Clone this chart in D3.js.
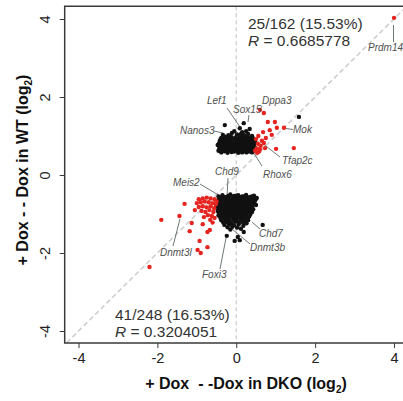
<!DOCTYPE html>
<html><head><meta charset="utf-8">
<script src="https://cdn.jsdelivr.net/npm/d3@7"></script>
<style>body{margin:0;background:#fff}svg{display:block;font-family:"Liberation Sans",Arial,sans-serif}</style>
</head><body><svg id="c" width="403" height="401"></svg>
<script>
const xTicks=[-4,-2,0,2,4];
const yTicks=[-4,-2,0,2,4];
const upperBlack=[[-0.29,1.28],[0.19,1.33],[0.09,1.20],[0.34,1.18],[-0.11,1.08],[-0.34,1.03],[-0.42,0.87],[-0.47,0.77],[-0.38,0.95],[0.25,1.12],
[-0.05,1.12],[0.15,1.10],[0.30,1.05],[0.02,1.04],[-0.20,1.02],[0.40,1.00],[-0.28,0.98],[0.10,0.99],[-0.12,0.97],[0.22,0.98],
[-0.33,0.92],[-0.18,0.93],[0.05,0.94],[0.35,0.94],[0.16,0.92],[-0.06,0.91],[0.27,0.90],[-0.25,0.89],[0.44,0.89],[0.08,0.88],
[-0.38,0.85],[-0.14,0.86],[0.20,0.86],[0.00,0.85],[0.32,0.84],[-0.30,0.83],[0.12,0.83],[-0.08,0.82],[0.40,0.82],[-0.22,0.81],
[0.25,0.81],[0.05,0.80],[-0.35,0.79],[-0.15,0.78],[0.18,0.78],[0.35,0.77],[-0.02,0.77],[-0.27,0.76],[0.10,0.75],[0.28,0.74],
[-0.40,0.74],[-0.10,0.74],[0.42,0.73],[-0.20,0.72],[0.02,0.72],[0.20,0.71],[-0.32,0.70],[0.33,0.70],[-0.05,0.70],[0.12,0.69],
[-0.25,0.68],[0.25,0.67],[-0.15,0.67],[0.05,0.66],[0.38,0.66],[-0.36,0.65],[-0.08,0.64],[0.16,0.64],[0.30,0.63],[-0.20,0.62],
[0.00,0.62],[0.22,0.61],[-0.30,0.61],[0.10,0.60],[-0.12,0.59],[0.35,0.60],[-0.38,0.58],[0.05,0.57],[0.26,0.58],[-0.22,0.57],
[-0.44,0.80],[-0.43,0.69],[-0.45,0.62],[-0.33,0.74],[-0.26,0.85],[-0.18,0.88],[-0.10,0.93],[-0.02,0.96],[0.06,0.90],[0.14,0.96],
[0.22,0.93],[0.30,0.97],[0.38,0.86],[0.45,0.78],[0.47,0.70],[0.44,0.63],[0.40,0.58],[0.15,0.58],[-0.05,0.60],[-0.28,0.64],
[-0.18,0.65],[-0.10,0.68],[0.00,0.68],[0.08,0.71],[0.18,0.67],[0.28,0.69],[0.36,0.72],[-0.35,0.87],[-0.22,0.77],[-0.12,0.79],
[-0.04,0.81],[0.04,0.84],[0.14,0.80],[0.24,0.76],[0.32,0.79],[0.40,0.76],[-0.30,0.72],[-0.16,0.71],[-0.06,0.75],[0.07,0.77],
[0.16,0.74],[0.26,0.86],[0.36,0.90],[-0.40,0.91],[-0.24,0.94],[0.00,0.89],[0.10,0.86],[0.20,1.02],[-0.15,1.00],[0.12,1.05],
[-0.30,0.67],[0.48,0.84],[0.42,0.95],[-0.08,0.86],[0.02,0.76],[0.30,0.61],[1.59,1.49]];
const upperRed=[[0.60,1.67],[0.70,1.59],[0.80,1.36],[0.98,1.36],[0.85,1.15],[1.03,1.21],[0.90,1.03],[1.21,1.21],[1.01,0.67],[1.46,0.69],[0.73,0.69],[4.00,4.03],
[0.50,0.92],[0.55,0.80],[0.52,0.68],[0.58,0.60],[0.62,0.75],[0.48,0.62],[0.65,0.88],[0.56,1.00],[0.70,0.82],[0.60,0.66],[0.53,0.57],[0.75,0.95],[0.68,1.10]];
const lowerBlack=[[0.52,-0.59],[0.50,-0.77],[0.67,-1.28],[0.19,-1.46],[-0.24,-1.56],[0.09,-1.67],[-0.04,-1.69],[0.04,-1.59],
[-0.45,-0.55],[-0.35,-0.52],[-0.25,-0.56],[-0.15,-0.50],[-0.05,-0.54],[0.05,-0.52],[0.15,-0.55],[0.25,-0.51],[0.35,-0.56],[0.45,-0.53],
[-0.40,-0.60],[-0.30,-0.62],[-0.20,-0.59],[-0.10,-0.61],[0.00,-0.58],[0.10,-0.62],[0.20,-0.60],[0.30,-0.63],[0.40,-0.60],[0.48,-0.65],
[-0.48,-0.66],[-0.38,-0.68],[-0.28,-0.66],[-0.18,-0.70],[-0.08,-0.67],[0.02,-0.69],[0.12,-0.66],[0.22,-0.70],[0.32,-0.67],[0.42,-0.71],
[-0.43,-0.73],[-0.33,-0.74],[-0.23,-0.72],[-0.13,-0.75],[-0.03,-0.73],[0.07,-0.76],[0.17,-0.73],[0.27,-0.75],[0.37,-0.74],[0.46,-0.72],
[-0.50,-0.79],[-0.40,-0.80],[-0.30,-0.78],[-0.20,-0.81],[-0.10,-0.79],[0.00,-0.82],[0.10,-0.79],[0.20,-0.81],[0.30,-0.80],[0.40,-0.82],
[-0.45,-0.86],[-0.35,-0.85],[-0.25,-0.87],[-0.15,-0.84],[-0.05,-0.87],[0.05,-0.85],[0.15,-0.88],[0.25,-0.85],[0.35,-0.87],[0.43,-0.88],
[-0.47,-0.92],[-0.37,-0.91],[-0.27,-0.93],[-0.17,-0.90],[-0.07,-0.93],[0.03,-0.91],[0.13,-0.94],[0.23,-0.91],[0.33,-0.93],[0.40,-0.95],
[-0.42,-0.98],[-0.32,-0.97],[-0.22,-0.99],[-0.12,-0.96],[-0.02,-0.99],[0.08,-0.97],[0.18,-1.00],[0.28,-0.97],[0.36,-1.00],
[-0.45,-1.04],[-0.35,-1.03],[-0.25,-1.05],[-0.15,-1.02],[-0.05,-1.05],[0.05,-1.03],[0.15,-1.06],[0.25,-1.03],[0.33,-1.06],
[-0.40,-1.10],[-0.30,-1.09],[-0.20,-1.11],[-0.10,-1.08],[0.00,-1.11],[0.10,-1.09],[0.20,-1.12],[0.30,-1.10],
[-0.38,-1.16],[-0.28,-1.15],[-0.18,-1.17],[-0.08,-1.14],[0.02,-1.17],[0.12,-1.15],[0.22,-1.18],[0.30,-1.16],
[-0.33,-1.22],[-0.23,-1.21],[-0.13,-1.23],[-0.03,-1.20],[0.07,-1.23],[0.17,-1.21],[0.26,-1.24],
[-0.30,-1.28],[-0.18,-1.27],[-0.06,-1.29],[0.06,-1.27],[0.18,-1.30],
[-0.22,-1.34],[-0.10,-1.33],[0.02,-1.35],[0.12,-1.38],[-0.15,-1.40],
[-0.40,-0.57],[-0.30,-0.57],[-0.20,-0.54],[-0.10,-0.56],[0.00,-0.53],[0.10,-0.57],[0.20,-0.55],[0.30,-0.58],[0.40,-0.55],[0.50,-0.60],
[-0.43,-0.63],[-0.33,-0.65],[-0.23,-0.63],[-0.13,-0.65],[-0.03,-0.63],[0.07,-0.64],[0.17,-0.63],[0.27,-0.65],[0.37,-0.64],[0.45,-0.62],
[-0.45,-0.70],[-0.35,-0.71],[-0.25,-0.69],[-0.15,-0.72],[-0.05,-0.70],[0.05,-0.72],[0.15,-0.70],[0.25,-0.72],[0.35,-0.70],
[-0.40,-0.76],[-0.30,-0.75],[-0.20,-0.77],[-0.10,-0.76],[0.00,-0.77],[0.10,-0.74],[0.20,-0.77],[0.30,-0.76],[0.40,-0.78],
[-0.48,-0.83],[-0.38,-0.83],[-0.28,-0.82],[-0.18,-0.84],[-0.08,-0.82],[0.02,-0.84],[0.12,-0.83],[0.22,-0.84],[0.32,-0.83],
[-0.42,-0.89],[-0.32,-0.88],[-0.22,-0.90],[-0.12,-0.88],[-0.02,-0.90],[0.08,-0.88],[0.18,-0.90],[0.28,-0.89],
[-0.45,-0.95],[-0.35,-0.94],[-0.25,-0.96],[-0.15,-0.94],[-0.05,-0.96],[0.05,-0.94],[0.15,-0.97],[0.25,-0.94],
[-0.38,-1.00],[-0.28,-1.01],[-0.18,-1.00],[-0.08,-1.01],[0.02,-1.00],[0.12,-1.02],[0.22,-1.00],
[-0.33,-1.07],[-0.23,-1.08],[-0.13,-1.06],[-0.03,-1.08],[0.07,-1.07],[0.17,-1.08],[0.25,-1.08],
[-0.25,-1.13]];
const lowerRed=[[-1.31,-0.74],[-1.44,-1.05],[-1.90,-1.15],[-1.13,-1.23],[-0.85,-1.26],[-1.18,-1.44],[-0.73,-1.46],[-0.67,-1.41],[-0.93,-1.69],[-0.73,-1.85],[-0.98,-1.92],[-0.90,-2.00],[-2.20,-2.36],
[-0.95,-0.62],[-0.85,-0.60],[-0.75,-0.58],[-0.65,-0.60],[-0.55,-0.62],[-1.00,-0.72],[-0.90,-0.70],[-0.80,-0.68],[-0.70,-0.70],[-0.60,-0.72],
[-0.52,-0.75],[-0.95,-0.82],[-0.85,-0.80],[-0.75,-0.83],[-0.65,-0.80],[-0.56,-0.85],[-0.88,-0.92],[-0.78,-0.95],[-0.68,-0.90],[-0.58,-0.95],
[-0.72,-1.03],[-0.62,-1.05],[-0.82,-1.08],[-0.55,-1.10],[-0.66,-1.15],[-0.60,-1.22],[-1.05,-0.90],[-0.50,-0.68]];
const geneNames=["Prdm14","Lef1","Sox15","Dppa3","Mok","Nanos3","Tfap2c","Rhox6","Chd9","Meis2","Chd7","Dnmt3b","Dnmt3l","Foxi3"];
const upperStats=["25/162 (15.53%)","0.6685778"];
const lowerStats=["41/248 (16.53%)","0.3204051"];

const svg=d3.select("#c");
const x=d3.scaleLinear().domain([-4,4]).range([78.5,394]);
const y=d3.scaleLinear().domain([-4,4]).range([331,19]);
const xl=x(-4.35), xr=x(4.35), yt=y(4.33), yb=y(-4.31);

svg.append("line").attr("x1",x(-4.3)).attr("y1",y(-4.3)).attr("x2",x(4.3)).attr("y2",y(4.3))
  .attr("stroke","#cfcfcf").attr("stroke-width",1.6).attr("stroke-dasharray","5,3");
svg.append("line").attr("x1",x(0)).attr("x2",x(0)).attr("y1",yt).attr("y2",yb)
  .attr("stroke","#d2d2d2").attr("stroke-width",1.4).attr("stroke-dasharray","4,3");

const leaders=[
 ["Prdm14",368,51,[393.5,25,393.5,42]],
 ["Lef1",207,104,[227,108,240,127]],
 ["Sox15",233,113,[249,115,248,122]],
 ["Dppa3",262,104,[262,106,259,111]],
 ["Mok",293,133,[286,128.5,293,129.5]],
 ["Nanos3",180,134,[214,131,223,133]],
 ["Tfap2c",282,164,[262,143,280,157]],
 ["Rhox6",263,178,[262,166,250,147]],
 ["Chd9",215,175,[228,178,227,197]],
 ["Meis2",173,186,[200,184,220,196]],
 ["Chd7",259,237,[252,222,260,229]],
 ["Dnmt3b",250,251,[232,229,250,244]],
 ["Dnmt3l",160,256,[180,219,173,246]],
 ["Foxi3",202,278,[220,269,226,238]]
];
svg.append("g").selectAll("line").data(leaders).join("line")
  .attr("x1",d=>d[3][0]).attr("y1",d=>d[3][1]).attr("x2",d=>d[3][2]).attr("y2",d=>d[3][3])
  .attr("stroke","#6f7878").attr("stroke-width",1);

const r=2.2;
svg.append("g").selectAll("circle").data(upperBlack.concat(lowerBlack)).join("circle")
  .attr("cx",d=>x(d[0])).attr("cy",d=>y(d[1])).attr("r",r).attr("fill","#111");
svg.append("g").selectAll("circle").data(upperRed.concat(lowerRed)).join("circle")
  .attr("cx",d=>x(d[0])).attr("cy",d=>y(d[1])).attr("r",r).attr("fill","#e5241f");

svg.append("g").selectAll("text").data(leaders).join("text")
  .attr("x",d=>d[1]).attr("y",d=>d[2]).text((d,i)=>geneNames[i])
  .attr("font-size",10).attr("font-style","italic").attr("fill","#505050");

function stats(t,x0,y0){
  svg.append("text").attr("x",x0).attr("y",y0).attr("font-size",15.5).attr("fill","#333").text(t[0]);
  const tt=svg.append("text").attr("x",x0).attr("y",y0+17).attr("font-size",15.5).attr("fill","#333");
  tt.append("tspan").attr("font-style","italic").text("R");
  tt.append("tspan").text(" = "+t[1]);
}
stats(upperStats,248,28.5);
stats(lowerStats,115,320);

const fr="#3a3a3a";
svg.append("path").attr("d",`M${xr},${yt}H${xl}V${yb}H${xr}V${yt}`).attr("fill","none").attr("stroke",fr).attr("stroke-width",1.5);

const gx=svg.append("g").attr("transform",`translate(0,${yb})`)
  .call(d3.axisBottom(x).tickValues(xTicks).tickSize(5).tickPadding(5).tickFormat(d3.format("d")));
gx.select(".domain").remove();
gx.selectAll("line").attr("stroke",fr);
gx.selectAll("text").attr("font-size",14.5).attr("fill","#222").attr("font-family","Liberation Sans, Arial, sans-serif").text(d=>String(d));
const gy=svg.append("g").attr("transform",`translate(${xl},0)`)
  .call(d3.axisLeft(y).tickValues(yTicks).tickSize(5).tickFormat(d3.format("d")));
gy.select(".domain").remove();
gy.selectAll("line").attr("stroke",fr);
gy.selectAll("text").attr("font-size",14.5).attr("fill","#222").attr("font-family","Liberation Sans, Arial, sans-serif")
  .attr("transform","rotate(-90)").attr("x",0).attr("y",-15).attr("dy",0).attr("text-anchor","middle").text(d=>String(d));

const xt=svg.append("text").attr("x",246).attr("y",389).attr("text-anchor","middle").attr("font-size",16).attr("font-weight","bold").attr("fill","#111");
xt.append("tspan").text("+ Dox  - -Dox in DKO (log").attr("xml:space","preserve");
xt.append("tspan").attr("font-size",10).attr("dy",4).text("2");
xt.append("tspan").attr("dy",-4).text(")");
const yt2=svg.append("text").attr("transform","translate(28,170) rotate(-90)").attr("text-anchor","middle").attr("font-size",16).attr("font-weight","bold").attr("fill","#111");
yt2.append("tspan").text("+ Dox - - Dox in WT (log");
yt2.append("tspan").attr("font-size",10).attr("dy",4).text("2");
yt2.append("tspan").attr("dy",-4).text(")");
</script></body></html>
